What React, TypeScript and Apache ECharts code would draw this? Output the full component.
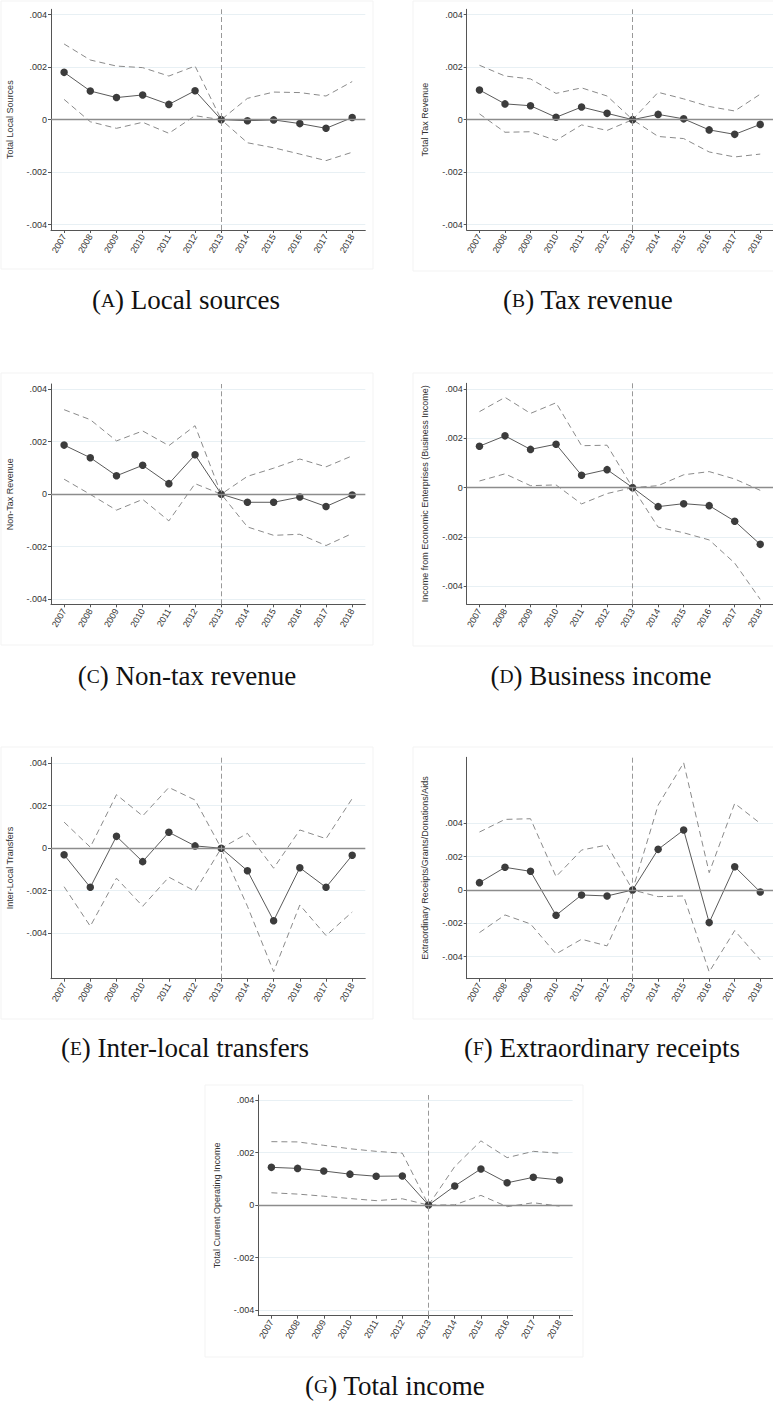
import React, { useEffect, useRef } from "react";
import * as echarts from "echarts";

const years = ["2007", "2008", "2009", "2010", "2011", "2012", "2013", "2014", "2015", "2016", "2017", "2018"];

// (A) Local sources
const localEst = [0.0018, 0.00109, 0.00084, 0.00094, 0.00058, 0.0011, 0, -0.00004, -0.00001, -0.00015, -0.00033, 0.00008];
const localUp = [0.00288, 0.00227, 0.00204, 0.00198, 0.00166, 0.00204, 0, 0.00081, 0.00105, 0.00103, 0.0009, 0.00145];
const localLo = [0.00077, -0.00008, -0.00033, -0.0001, -0.00052, 0.00015, 0, -0.00088, -0.00107, -0.00131, -0.00156, -0.00124];

// (B) Tax revenue
const taxEst = [0.00113, 0.0006, 0.00053, 0.00009, 0.00048, 0.00024, 0, 0.0002, 0.00003, -0.00039, -0.00056, -0.00018];
const taxUp = [0.00207, 0.00166, 0.00155, 0.001, 0.00121, 0.0009, 0, 0.00104, 0.00079, 0.0005, 0.00033, 0.00097];
const taxLo = [0.00022, -0.00048, -0.00046, -0.00079, -0.0002, -0.00041, 0, -0.00064, -0.00072, -0.00123, -0.00142, -0.00131];

// (C) Non-tax revenue
const nonTaxEst = [0.00187, 0.00139, 0.0007, 0.0011, 0.0004, 0.0015, 0, -0.00031, -0.00031, -0.00011, -0.00047, -0.00003];
const nonTaxUp = [0.00322, 0.00284, 0.00203, 0.00241, 0.00185, 0.00261, 0, 0.00068, 0.00099, 0.00134, 0.00104, 0.00146];
const nonTaxLo = [0.00057, -0.00001, -0.00061, -0.0002, -0.00102, 0.0004, 0, -0.00125, -0.00157, -0.00153, -0.00196, -0.0015];

// (D) Business income
const bizEst = [0.00168, 0.0021, 0.00155, 0.00176, 0.0005, 0.00073, 0, -0.00077, -0.00065, -0.00073, -0.00136, -0.0023];
const bizUp = [0.00308, 0.00366, 0.00301, 0.00344, 0.0017, 0.00172, 0, 0.00008, 0.00052, 0.00065, 0.00035, -0.00011];
const bizLo = [0.00027, 0.00056, 0.00008, 0.00011, -0.00066, -0.00024, 0, -0.0016, -0.00183, -0.00212, -0.00306, -0.00453];

// (E) Inter-local transfers
const interEst = [-0.00031, -0.00184, 0.00056, -0.00063, 0.00075, 0.00011, 0, -0.00106, -0.00341, -0.00092, -0.00184, -0.00033];
const interUp = [0.00123, 0.00005, 0.00252, 0.00152, 0.00286, 0.00227, 0, 0.0007, -0.00094, 0.00086, 0.00045, 0.00234];
const interLo = [-0.00181, -0.00367, -0.00141, -0.00273, -0.00136, -0.00202, 0, -0.00273, -0.00581, -0.00267, -0.00411, -0.003];

// (F) Extraordinary receipts
const extraEst = [0.00044, 0.00136, 0.00112, -0.00152, -0.0003, -0.00036, 0, 0.00244, 0.0036, -0.00196, 0.0014, -0.00012];
const extraUp = [0.00348, 0.00424, 0.00428, 0.0008, 0.0024, 0.0027, 0, 0.0051, 0.00764, 0.00104, 0.0052, 0.004];
const extraLo = [-0.00256, -0.0015, -0.00204, -0.00384, -0.00296, -0.00336, 0, -0.0004, -0.00036, -0.00492, -0.00244, -0.0042];

// (G) Total income
const totalEst = [0.00144, 0.0014, 0.0013, 0.00118, 0.0011, 0.00111, 0, 0.00073, 0.00138, 0.00085, 0.00106, 0.00096];
const totalUp = [0.00242, 0.00241, 0.00228, 0.00215, 0.00205, 0.00198, 0, 0.00147, 0.00245, 0.00181, 0.00205, 0.00198];
const totalLo = [0.00047, 0.00042, 0.00034, 0.00025, 0.00017, 0.00024, 0, 0.00001, 0.00037, -0.00006, 0.00009, -0.00004];

const ticksStd = [-0.004, -0.002, 0, 0.002, 0.004];

const axisNames = [
  "Total Local Sources",
  "Total Tax Revenue",
  "Non-Tax Revenue",
  "Income from Economic Enterprises (Business Income)",
  "Inter-Local Transfers",
  "Extraordinary Receipts/Grants/Donations/Aids",
  "Total Current Operating Income",
];
const captionLetters = ["A", "B", "C", "D", "E", "F", "G"];
const captionTexts = ["Local sources", "Tax revenue", "Non-tax revenue", "Business income", "Inter-local transfers", "Extraordinary receipts", "Total income"];

const panelData = [
  { est: localEst, up: localUp, lo: localLo, min: -0.0042, max: 0.0042 },
  { est: taxEst, up: taxUp, lo: taxLo, min: -0.0042, max: 0.0042 },
  { est: nonTaxEst, up: nonTaxUp, lo: nonTaxLo, min: -0.0042, max: 0.0042 },
  { est: bizEst, up: bizUp, lo: bizLo, min: -0.00473, max: 0.00423 },
  { est: interEst, up: interUp, lo: interLo, min: -0.00614, max: 0.00428 },
  { est: extraEst, up: extraUp, lo: extraLo, min: -0.00533, max: 0.00797 },
  { est: totalEst, up: totalUp, lo: totalLo, min: -0.00422, max: 0.0042 },
];

// layout (pixels)
const layout = [
  { left: 51, top: 9.3, height: 220.7, cx: 186, cy: 300, box: [1, 1, 372, 268] },
  { left: 466.7, top: 9.3, height: 220.7, cx: 588, cy: 300, box: [413, 1, 362, 270] },
  { left: 51, top: 384, height: 220.3, cx: 187, cy: 676, box: [1, 373, 372, 272] },
  { left: 466.7, top: 383.3, height: 221, cx: 601, cy: 676, box: [413, 373, 362, 273] },
  { left: 51, top: 757.3, height: 221.4, cx: 185, cy: 1048, box: [1, 747, 372, 272] },
  { left: 466.7, top: 757.3, height: 221.4, cx: 602, cy: 1048, box: [413, 747, 362, 272] },
  { left: 258.3, top: 1095, height: 220.7, cx: 395, cy: 1386, box: [205, 1085, 378, 272] },
];
const gridWidth = 314.3;

function fmt(v: number): string {
  if (Math.abs(v) < 1e-12) return "0";
  const s = Math.abs(v).toFixed(3).replace(/^0/, "");
  return (v < 0 ? "-" : "") + s;
}

export default function App() {
  const ref = useRef<HTMLDivElement>(null);
  useEffect(() => {
    if (!ref.current) return;
    const chart = echarts.init(ref.current, null, { renderer: "svg" });
    const grids: any[] = [];
    const xAxes: any[] = [];
    const yAxes: any[] = [];
    const series: any[] = [];
    const graphics: any[] = [];

    panelData.forEach((p, i) => {
      const L = layout[i];
      grids.push({ left: L.left, top: L.top, width: gridWidth, height: L.height, containLabel: false });
      xAxes.push({
        type: "category",
        gridIndex: i,
        data: years,
        boundaryGap: true,
        axisLine: { show: true, onZero: false, lineStyle: { color: "#555", width: 1 } },
        axisTick: { show: true, alignWithLabel: true, interval: 0, length: 3, lineStyle: { color: "#555" } },
        axisLabel: { interval: 0, rotate: 60, fontSize: 9, color: "#333", margin: 5, fontFamily: "Liberation Sans, Arial, sans-serif" },
        splitLine: { show: false },
      });
      yAxes.push({
        type: "value",
        gridIndex: i,
        min: p.min,
        max: p.max,
        name: axisNames[i],
        nameLocation: "middle",
        nameGap: 37,
        nameRotate: 90,
        nameTextStyle: { fontSize: 9, color: "#333", fontFamily: "Liberation Sans, Arial, sans-serif" },
        axisLine: { show: true, lineStyle: { color: "#555", width: 1 } },
        axisTick: { show: true, length: 3, customValues: ticksStd, lineStyle: { color: "#555" } },
        axisLabel: {
          customValues: ticksStd,
          fontSize: 9,
          color: "#333",
          margin: 4,
          fontFamily: "Liberation Sans, Arial, sans-serif",
          formatter: (v: number) => fmt(v),
        },
        splitLine: { show: true, lineStyle: { color: "#e8f0f4", width: 1 } },
      });
      // reference lines
      series.push({
        type: "line",
        xAxisIndex: i,
        yAxisIndex: i,
        data: [],
        silent: true,
        z: 1,
        markLine: {
          silent: true,
          symbol: "none",
          label: { show: false },
          animation: false,
          data: [
            { yAxis: 0, lineStyle: { color: "#8c8c8c", width: 1.3, type: "solid" } },
            { xAxis: "2013", lineStyle: { color: "#999", width: 1, type: [5, 3] } },
          ],
        },
      });
      series.push({
        type: "line",
        xAxisIndex: i,
        yAxisIndex: i,
        data: p.up,
        showSymbol: false,
        symbol: "none",
        lineStyle: { color: "#8a8a8a", width: 1, type: [6, 4] },
        z: 2,
      });
      series.push({
        type: "line",
        xAxisIndex: i,
        yAxisIndex: i,
        data: p.lo,
        showSymbol: false,
        symbol: "none",
        lineStyle: { color: "#8a8a8a", width: 1, type: [6, 4] },
        z: 2,
      });
      series.push({
        type: "line",
        xAxisIndex: i,
        yAxisIndex: i,
        data: p.est,
        symbol: "circle",
        symbolSize: 7.5,
        showSymbol: true,
        itemStyle: { color: "#3c3c3c" },
        lineStyle: { color: "#5a5a5a", width: 1 },
        z: 3,
      });
      graphics.push({
        type: "rect",
        shape: { x: L.box[0], y: L.box[1], width: L.box[2], height: L.box[3] },
        style: { fill: "none", stroke: "#f3f3f3", lineWidth: 1 },
        z: -10,
        silent: true,
      });
      graphics.push({
        type: "text",
        x: L.cx,
        y: L.cy,
        style: {
          text: "{p|(}{sc|" + captionLetters[i] + "}{p|) " + captionTexts[i] + "}",
          align: "center",
          verticalAlign: "middle",
          fill: "#111",
          rich: {
            p: { fontSize: 27, fontFamily: "Liberation Serif, serif", fill: "#111" },
            sc: { fontSize: 19.5, fontFamily: "Liberation Serif, serif", fill: "#111" },
          },
        },
        silent: true,
      });
    });

    chart.setOption({
      animation: false,
      backgroundColor: "#ffffff",
      grid: grids,
      xAxis: xAxes,
      yAxis: yAxes,
      series,
      graphic: graphics,
    });
    return () => chart.dispose();
  }, []);
  return (
    <div
      ref={ref}
      style={{ position: "absolute", left: 0, top: 0, width: 773, height: 1401, background: "#fff" }}
    />
  );
}
